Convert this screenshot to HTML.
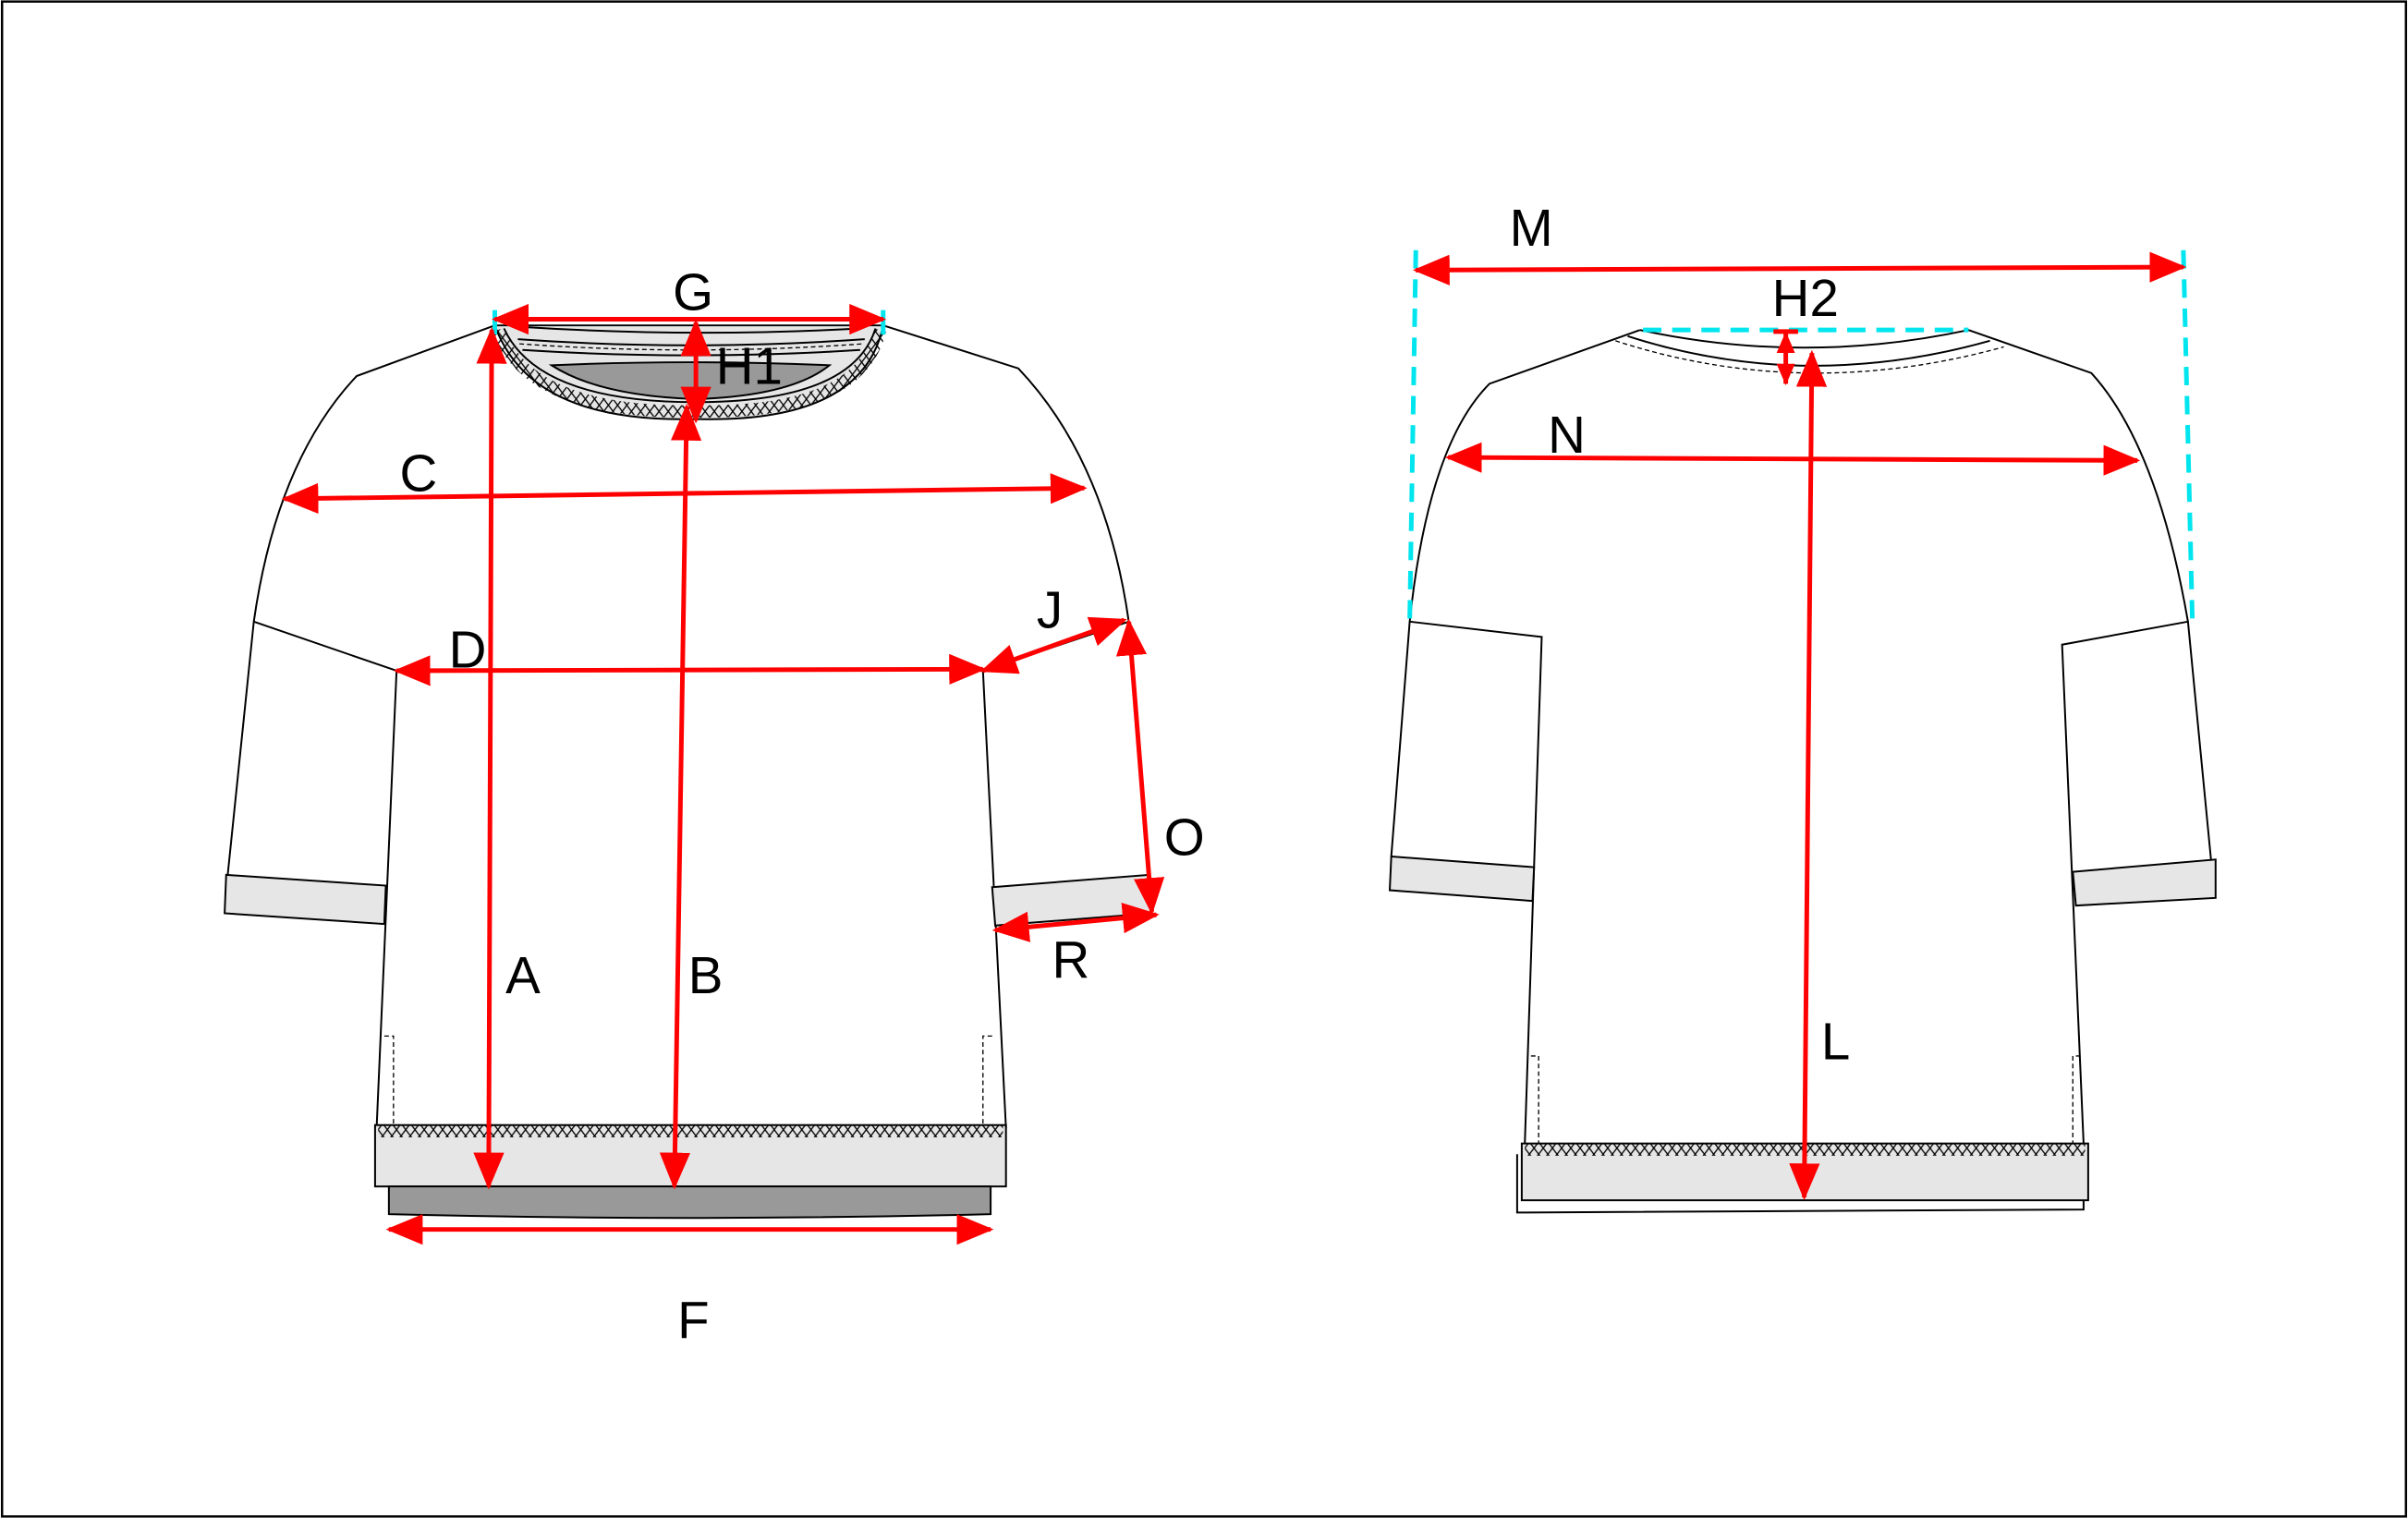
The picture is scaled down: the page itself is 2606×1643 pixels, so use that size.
<!DOCTYPE html>
<html><head><meta charset="utf-8"><style>
html,body{margin:0;padding:0;background:#fff}
svg{display:block}
text{font-family:"Liberation Sans",sans-serif;font-size:34px;fill:#000}
</style></head><body>
<svg width="2606" height="1643" viewBox="0 0 1568 989" xmlns="http://www.w3.org/2000/svg">
<defs>
<marker id="a" viewBox="0 0 24 20" refX="22" refY="10" markerWidth="24" markerHeight="20" orient="auto-start-reverse" markerUnits="userSpaceOnUse">
<path d="M0,0 L24,10 L0,20 z" fill="#ff0000"/>
</marker>
<marker id="s" viewBox="0 0 14 12" refX="13" refY="6" markerWidth="14" markerHeight="12" orient="auto-start-reverse" markerUnits="userSpaceOnUse">
<path d="M0,0 L14,6 L0,12 z" fill="#ff0000"/>
</marker>
<pattern id="xx" width="6" height="8" patternUnits="userSpaceOnUse">
<path d="M0,0 L6,8 M6,0 L0,8" stroke="#000" stroke-width="0.8"/>
</pattern>
</defs>
<rect x="1" y="1" width="1566" height="987" fill="#fff" stroke="#000" stroke-width="1.5"/>

<g fill="none" stroke="#000" stroke-width="1.2">
<!-- FRONT -->
<path d="M322,212 L232,245 Q180,300 165,405 L148,570"/>
<path d="M165,405 L258,437 L245,735"/>
<path d="M575,212 L663,240 Q720,300 735,405 L748,570"/>
<path d="M735,405 L640,437 L655,735"/>
<path d="M147,570 L251,577 L250,602 L146,595 Z" fill="#e6e6e6"/>
<path d="M646,578 L748,570 L750,595 L648,603 Z" fill="#e6e6e6"/>
<rect x="244" y="733" width="411" height="40" fill="#e6e6e6"/>
<rect x="246" y="733" width="407" height="8" fill="url(#xx)" stroke="none"/>
<path d="M253,773 L645,773 L645,791 Q450,796 253,791 Z" fill="#999"/>
<path d="M250,675 L256,675 L256,733 M646,675 L640,675 L640,733" stroke-dasharray="3,2" stroke-width="0.8"/>
<!-- neck -->
<path d="M322,212 Q345,276 453,273 Q562,276 575,212 Z" fill="#e6e6e6"/>
<path d="M324,215 Q345,270 453,268 Q560,270 573,215" stroke="url(#xx)" stroke-width="8"/>
<path d="M328,214 Q350,262 453,262 Q555,262 570,214" fill="#e6e6e6"/>
<path d="M359,238 Q450,234 540,238 Q515,258 453,260 Q390,258 359,238 Z" fill="#999"/>
<path d="M340,213 Q450,220 560,214"/>
<path d="M337,221 Q450,229 563,221"/>
<path d="M338,224 Q450,232 562,224" stroke-dasharray="3,2" stroke-width="0.8"/>
<path d="M340,228 Q450,235 560,228"/>
<!-- BACK -->
<path d="M1068,215 L970,250 Q930,290 918,405 L906,558"/>
<path d="M918,405 L1004,415 L993,745"/>
<path d="M1282,215 L1362,243 Q1405,290 1425,405 L1440,560"/>
<path d="M1425,405 L1343,420 L1357,745"/>
<path d="M906,558 L999,565 L998,587 L905,580 Z" fill="#e6e6e6"/>
<path d="M1350,568 L1443,560 L1443,585 L1352,590 Z" fill="#e6e6e6"/>
<path d="M1068,215 Q1175,238 1282,215"/>
<path d="M1052,222 Q1175,262 1305,226" stroke-dasharray="3,2" stroke-width="0.8"/>
<path d="M1060,219 Q1175,256 1296,222"/>
<path d="M988,752 L988,790 L1357,788 L1357,752"/>
<rect x="991" y="745" width="369" height="37" fill="#e6e6e6"/>
<rect x="993" y="745" width="365" height="8" fill="url(#xx)" stroke="none"/>
<path d="M997,688 L1002,688 L1002,745 M1355,688 L1350,688 L1350,745" stroke-dasharray="3,2" stroke-width="0.8"/>
</g>

<!-- cyan -->
<g stroke="#00e5ee" stroke-width="3" stroke-dasharray="12,7" fill="none">
<path d="M922,163 L918,405"/>
<path d="M1422,163 L1428,410"/>
<path d="M1070,215 L1282,215"/>
<path d="M322,202 L322,218 M575,202 L575,218" stroke-dasharray="none"/>
</g>

<!-- arrows -->
<g stroke="#ff0000" stroke-width="3" fill="none" marker-start="url(#a)" marker-end="url(#a)">
<line x1="322" y1="208" x2="575" y2="208"/>
<line x1="453" y1="210" x2="453" y2="274"/>
<line x1="320" y1="215" x2="318" y2="773"/>
<line x1="447" y1="265" x2="439" y2="773"/>
<line x1="185" y1="325" x2="706" y2="318"/>
<line x1="258" y1="437" x2="640" y2="436"/>
<line x1="640" y1="437" x2="732" y2="404"/>
<line x1="735" y1="405" x2="750" y2="594"/>
<line x1="648" y1="606" x2="753" y2="596"/>
<line x1="253" y1="801" x2="645" y2="801"/>
<line x1="922" y1="176" x2="1422" y2="174"/>
<line x1="943" y1="298" x2="1392" y2="300"/>
<line x1="1163" y1="217" x2="1163" y2="250" marker-start="url(#s)" marker-end="url(#s)"/>
<line x1="1180" y1="230" x2="1175" y2="780"/>
</g>
<path d="M1155,216 L1171,216" stroke="#ff0000" stroke-width="3"/>

<text x="438" y="202">G</text>
<text x="466" y="250">H1</text>
<text x="260" y="320">C</text>
<text x="292" y="435">D</text>
<text x="675" y="409">J</text>
<text x="758" y="557">O</text>
<text x="329" y="647">A</text>
<text x="448" y="647">B</text>
<text x="685" y="637">R</text>
<text x="441" y="872">F</text>
<text x="983" y="160">M</text>
<text x="1154" y="206">H2</text>
<text x="1008" y="295">N</text>
<text x="1186" y="690">L</text>
</svg>
</body></html>
